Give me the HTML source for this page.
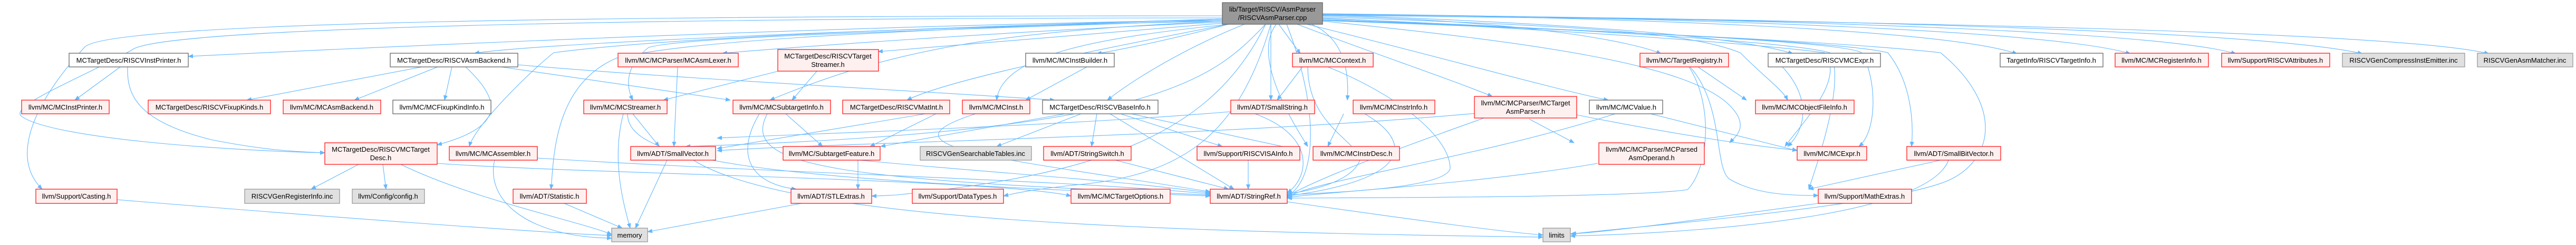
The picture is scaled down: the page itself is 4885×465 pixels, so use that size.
<!DOCTYPE html>
<html><head><meta charset="utf-8">
<style>
html,body{margin:0;padding:0;background:#fff;}
svg{display:block;}
text{font-family:"Liberation Sans",Arial,sans-serif;font-size:13px;fill:#000;}
.w{fill:#fff;stroke:#666;stroke-width:1.3;}
.r{fill:#fff0f0;stroke:#ff1a1a;stroke-width:1.3;}
.g{fill:#e0e0e0;stroke:#999;stroke-width:1.3;}
.k{fill:#999;stroke:#666;stroke-width:1.3;}
.e{fill:none;stroke:#63b8ff;stroke-width:1.1;marker-end:url(#a);}
</style></head><body>
<svg width="4885" height="465" viewBox="0 0 4885 465" xmlns="http://www.w3.org/2000/svg">
<defs><marker id="a" viewBox="0 0 10 10" refX="9" refY="5" markerWidth="10" markerHeight="10" markerUnits="userSpaceOnUse" orient="auto"><path d="M0,1 L10,5 L0,9 z" fill="#63b8ff"/></marker></defs>

<!-- edges from root -->
<g>
<path class="e" d="M2318,30 C1200,30 200,40 160,90 C60,200 20,300 80,359"/>
<path class="e" d="M2318,34 C1300,34 300,50 250,95 C150,150 20,200 40,220 C90,260 400,285 616,290"/>
<path class="e" d="M2318,38 C1500,50 500,100 357,107"/>
<path class="e" d="M2318,40 C1600,55 1000,85 900,101"/>
<path class="e" d="M2318,42 C1900,60 1500,90 1370,101"/>
<path class="e" d="M2318,44 C2000,70 1750,90 1665,98"/>
<path class="e" d="M2330,46 C2200,80 2120,95 2080,102"/>
<path class="e" d="M2318,36 C1500,60 1200,80 1050,100 C1000,140 900,240 890,278"/>
<path class="e" d="M2318,36 C1600,60 1300,80 1170,110 C1050,160 1050,300 1045,359"/>
<path class="e" d="M2318,38 C1700,60 1300,70 1230,90 C1180,130 1190,170 1200,190"/>
<path class="e" d="M2318,40 C1900,60 1700,90 1460,190"/>
<path class="e" d="M2330,46 C2100,90 1800,150 1720,190"/>
<path class="e" d="M2330,46 C2100,70 1900,100 1890,190"/>
<path class="e" d="M2360,46 C2250,90 2150,150 2100,190"/>
<path class="e" d="M2400,46 C2300,150 2200,250 1300,278"/>
<path class="e" d="M2410,46 L2410,190"/>
<path class="e" d="M2420,46 C2380,100 2430,200 2480,278"/>
<path class="e" d="M2425,46 L2466,102"/>
<path class="e" d="M2470,40 C2540,60 2560,120 2555,190"/>
<path class="e" d="M2460,46 C2600,100 2750,150 2830,183"/>
<path class="e" d="M2470,44 C2700,100 2950,170 3050,190"/>
<path class="e" d="M2508,40 C2900,80 3200,120 3280,200 C3320,240 3290,260 3280,271"/>
<path class="e" d="M2508,30 C2900,40 3100,80 3150,102"/>
<path class="e" d="M2508,28 C3000,45 3300,70 3400,102"/>
<path class="e" d="M2508,32 C3000,50 3200,60 3300,100 C3350,150 3380,170 3390,190"/>
<path class="e" d="M2508,34 C3000,60 3300,80 3460,100 C3500,150 3420,230 3385,278"/>
<path class="e" d="M2508,35 C3000,55 3400,80 3470,100 C3500,150 3450,300 3430,359"/>
<path class="e" d="M2508,37 C3100,60 3500,80 3530,100 C3560,150 3560,250 3525,278"/>
<path class="e" d="M2508,38 C3100,60 3500,80 3580,100 C3620,150 3630,220 3625,278"/>
<path class="e" d="M2508,39 C3100,60 3500,80 3680,100 C3800,200 3780,300 3700,340 C3600,390 3100,430 2980,444"/>
<path class="e" d="M2508,26 C3200,35 3700,60 3825,102"/>
<path class="e" d="M2508,26 C3300,35 3900,60 4040,102"/>
<path class="e" d="M2508,27 C3400,35 4100,60 4240,102"/>
<path class="e" d="M2508,28 C3500,35 4300,60 4480,102"/>
<path class="e" d="M2508,29 C3600,40 4550,60 4720,102"/>
<path class="e" d="M2400,46 C2300,250 2100,330 1700,370 C1680,371 1670,372 1653,372"/>
<path class="e" d="M2410,46 C2350,250 2250,330 2050,350 C1950,360 1920,368 1903,372"/>
<path class="e" d="M2440,46 C2500,200 2500,340 2441,372"/>
</g>
<!-- inter-node edges -->
<g>
<path class="e" d="M228,127 L142,190"/>
<path class="e" d="M242,127 C240,180 260,230 400,265 C500,285 560,288 616,290"/>
<path class="e" d="M800,127 L468,190"/>
<path class="e" d="M830,127 L672,190"/>
<path class="e" d="M857,127 L843,190"/>
<path class="e" d="M883,127 C950,190 960,240 829,275"/>
<path class="e" d="M950,127 L1385,190"/>
<path class="e" d="M982,123 C1300,150 1700,170 2000,190"/>
<path class="e" d="M1285,127 L1278,278"/>
<path class="e" d="M1480,134 L1258,190"/>
<path class="e" d="M1550,134 L1502,190"/>
<path class="e" d="M680,312 L590,359"/>
<path class="e" d="M726,312 L732,359"/>
<path class="e" d="M760,312 C900,380 1100,420 1160,445"/>
<path class="e" d="M829,310 C1100,330 1900,340 2031,372"/>
<path class="e" d="M222,379 C600,410 1000,440 1160,447"/>
<path class="e" d="M1182,216 C1160,300 1180,380 1195,433"/>
<path class="e" d="M1200,216 L1250,278"/>
<path class="e" d="M1190,216 C1190,300 1400,340 2295,372"/>
<path class="e" d="M1440,216 C1390,300 1430,350 1510,359"/>
<path class="e" d="M1455,216 C1400,320 1600,340 2295,370"/>
<path class="e" d="M1490,216 L1560,278"/>
<path class="e" d="M938,304 C920,380 1000,450 1160,452"/>
<path class="e" d="M1019,300 C1500,330 2000,340 2295,368"/>
<path class="e" d="M1265,304 L1205,433"/>
<path class="e" d="M1315,304 C1500,420 2200,440 2926,450"/>
<path class="e" d="M1070,386 L1180,433"/>
<path class="e" d="M1520,386 L1228,440"/>
<path class="e" d="M1627,304 L1627,359"/>
<path class="e" d="M1630,304 C1900,330 2100,340 2295,366"/>
<path class="e" d="M2061,127 L1945,190"/>
<path class="e" d="M1775,216 L1650,278"/>
<path class="e" d="M1755,216 L1360,282"/>
<path class="e" d="M1850,216 C1650,280 1900,300 2295,364"/>
<path class="e" d="M2020,216 L1670,278"/>
<path class="e" d="M2050,216 L1890,278"/>
<path class="e" d="M2080,216 L2070,278"/>
<path class="e" d="M2125,216 L2318,278"/>
<path class="e" d="M2105,216 L2340,359"/>
<path class="e" d="M2145,216 L2460,284"/>
<path class="e" d="M2115,304 L2330,359"/>
<path class="e" d="M2367,304 L2367,359"/>
<path class="e" d="M2333,212 C2000,240 1500,255 1360,262"/>
<path class="e" d="M2380,216 C2500,260 2480,340 2441,366"/>
<path class="e" d="M2470,127 L2422,190"/>
<path class="e" d="M2480,127 C2480,230 2560,260 2580,300 C2570,340 2500,360 2441,368"/>
<path class="e" d="M2518,127 C2650,180 2750,260 2750,320 C2740,360 2500,366 2441,370"/>
<path class="e" d="M2548,216 L2518,278"/>
<path class="e" d="M2588,216 C2680,270 2680,340 2441,372"/>
<path class="e" d="M2900,226 L2985,271"/>
<path class="e" d="M2820,222 C2600,300 2500,340 2441,372"/>
<path class="e" d="M2800,215 C2300,260 1600,270 1360,286"/>
<path class="e" d="M2990,218 C3200,260 3350,280 3408,285"/>
<path class="e" d="M3063,216 C2800,300 2500,340 2441,374"/>
<path class="e" d="M3130,216 L3408,286"/>
<path class="e" d="M3030,310 C2800,350 2500,365 2441,375"/>
<path class="e" d="M3220,127 L3312,190"/>
<path class="e" d="M3205,127 C3270,200 3250,320 3280,340 C3330,370 3400,371 3448,371"/>
<path class="e" d="M3203,127 C3250,200 3240,320 3200,360 C3100,375 2600,375 2441,376"/>
<path class="e" d="M3380,127 C3430,180 3430,240 3390,278"/>
<path class="e" d="M3680,304 L3430,359"/>
<path class="e" d="M3695,304 C3660,400 3300,440 2978,448"/>
<path class="e" d="M3448,386 C3200,420 3050,440 2978,444"/>
<path class="e" d="M2441,383 C2700,420 2850,440 2926,446"/>
</g>

<!-- nodes -->
<g>
<rect class="k" x="2318" y="5" width="190" height="41"/>
<text x="2413" y="22" text-anchor="middle">lib/Target/RISCV/AsmParser</text>
<text x="2413" y="38" text-anchor="middle">/RISCVAsmParser.cpp</text>

<!-- row1 -->
<rect class="w" x="131" y="101" width="226" height="26"/><text x="244" y="119" text-anchor="middle">MCTargetDesc/RISCVInstPrinter.h</text>
<rect class="w" x="740" y="101" width="242" height="26"/><text x="861" y="119" text-anchor="middle">MCTargetDesc/RISCVAsmBackend.h</text>
<rect class="r" x="1172" y="101" width="228" height="26"/><text x="1286" y="119" text-anchor="middle">llvm/MC/MCParser/MCAsmLexer.h</text>
<rect class="r" x="1475" y="94" width="191" height="41"/><text x="1570" y="111" text-anchor="middle">MCTargetDesc/RISCVTarget</text><text x="1570" y="127" text-anchor="middle">Streamer.h</text>
<rect class="w" x="1945" y="101" width="168" height="26"/><text x="2029" y="119" text-anchor="middle">llvm/MC/MCInstBuilder.h</text>
<rect class="r" x="2451" y="101" width="153" height="26"/><text x="2527" y="119" text-anchor="middle">llvm/MC/MCContext.h</text>
<rect class="r" x="3110" y="101" width="168" height="26"/><text x="3194" y="119" text-anchor="middle">llvm/MC/TargetRegistry.h</text>
<rect class="w" x="3353" y="101" width="213" height="26"/><text x="3460" y="119" text-anchor="middle">MCTargetDesc/RISCVMCExpr.h</text>
<rect class="w" x="3793" y="101" width="195" height="26"/><text x="3890" y="119" text-anchor="middle">TargetInfo/RISCVTargetInfo.h</text>
<rect class="r" x="4011" y="101" width="177" height="26"/><text x="4099" y="119" text-anchor="middle">llvm/MC/MCRegisterInfo.h</text>
<rect class="r" x="4213" y="101" width="205" height="26"/><text x="4315" y="119" text-anchor="middle">llvm/Support/RISCVAttributes.h</text>
<rect class="g" x="4442" y="101" width="232" height="26"/><text x="4558" y="119" text-anchor="middle">RISCVGenCompressInstEmitter.inc</text>
<rect class="g" x="4698" y="101" width="181" height="26"/><text x="4788" y="119" text-anchor="middle">RISCVGenAsmMatcher.inc</text>

<!-- row2 -->
<rect class="r" x="41" y="190" width="166" height="26"/><text x="124" y="208" text-anchor="middle">llvm/MC/MCInstPrinter.h</text>
<rect class="r" x="281" y="190" width="232" height="26"/><text x="397" y="208" text-anchor="middle">MCTargetDesc/RISCVFixupKinds.h</text>
<rect class="r" x="537" y="190" width="185" height="26"/><text x="629" y="208" text-anchor="middle">llvm/MC/MCAsmBackend.h</text>
<rect class="w" x="745" y="190" width="186" height="26"/><text x="838" y="208" text-anchor="middle">llvm/MC/MCFixupKindInfo.h</text>
<rect class="r" x="1107" y="190" width="158" height="26"/><text x="1186" y="208" text-anchor="middle">llvm/MC/MCStreamer.h</text>
<rect class="r" x="1390" y="190" width="185" height="26"/><text x="1482" y="208" text-anchor="middle">llvm/MC/MCSubtargetInfo.h</text>
<rect class="r" x="1598" y="190" width="203" height="26"/><text x="1700" y="208" text-anchor="middle">MCTargetDesc/RISCVMatInt.h</text>
<rect class="r" x="1825" y="190" width="128" height="26"/><text x="1889" y="208" text-anchor="middle">llvm/MC/MCInst.h</text>
<rect class="w" x="1977" y="190" width="219" height="26"/><text x="2086" y="208" text-anchor="middle">MCTargetDesc/RISCVBaseInfo.h</text>
<rect class="r" x="2334" y="190" width="159" height="26"/><text x="2413" y="208" text-anchor="middle">llvm/ADT/SmallString.h</text>
<rect class="r" x="2566" y="190" width="155" height="26"/><text x="2643" y="208" text-anchor="middle">llvm/MC/MCInstrInfo.h</text>
<rect class="r" x="2796" y="183" width="194" height="41"/><text x="2893" y="200" text-anchor="middle">llvm/MC/MCParser/MCTarget</text><text x="2893" y="216" text-anchor="middle">AsmParser.h</text>
<rect class="w" x="3014" y="190" width="139" height="26"/><text x="3084" y="208" text-anchor="middle">llvm/MC/MCValue.h</text>
<rect class="r" x="3329" y="190" width="187" height="26"/><text x="3422" y="208" text-anchor="middle">llvm/MC/MCObjectFileInfo.h</text>

<!-- row3 -->
<rect class="r" x="616" y="271" width="213" height="41"/><text x="722" y="288" text-anchor="middle">MCTargetDesc/RISCVMCTarget</text><text x="722" y="304" text-anchor="middle">Desc.h</text>
<rect class="r" x="852" y="278" width="167" height="26"/><text x="935" y="296" text-anchor="middle">llvm/MC/MCAssembler.h</text>
<rect class="r" x="1196" y="278" width="161" height="26"/><text x="1276" y="296" text-anchor="middle">llvm/ADT/SmallVector.h</text>
<rect class="r" x="1485" y="278" width="184" height="26"/><text x="1577" y="296" text-anchor="middle">llvm/MC/SubtargetFeature.h</text>
<rect class="g" x="1745" y="278" width="211" height="26"/><text x="1850" y="296" text-anchor="middle">RISCVGenSearchableTables.inc</text>
<rect class="r" x="1979" y="278" width="166" height="26"/><text x="2062" y="296" text-anchor="middle">llvm/ADT/StringSwitch.h</text>
<rect class="r" x="2270" y="278" width="195" height="26"/><text x="2367" y="296" text-anchor="middle">llvm/Support/RISCVISAInfo.h</text>
<rect class="r" x="2490" y="278" width="164" height="26"/><text x="2572" y="296" text-anchor="middle">llvm/MC/MCInstrDesc.h</text>
<rect class="r" x="3032" y="271" width="200" height="41"/><text x="3132" y="288" text-anchor="middle">llvm/MC/MCParser/MCParsed</text><text x="3132" y="304" text-anchor="middle">AsmOperand.h</text>
<rect class="r" x="3408" y="278" width="132" height="26"/><text x="3474" y="296" text-anchor="middle">llvm/MC/MCExpr.h</text>
<rect class="r" x="3616" y="278" width="178" height="26"/><text x="3705" y="296" text-anchor="middle">llvm/ADT/SmallBitVector.h</text>

<!-- row4 -->
<rect class="r" x="68" y="359" width="154" height="27"/><text x="145" y="377" text-anchor="middle">llvm/Support/Casting.h</text>
<rect class="g" x="464" y="359" width="180" height="27"/><text x="554" y="377" text-anchor="middle">RISCVGenRegisterInfo.inc</text>
<rect class="g" x="668" y="359" width="137" height="27"/><text x="736" y="377" text-anchor="middle">llvm/Config/config.h</text>
<rect class="r" x="973" y="359" width="139" height="27"/><text x="1042" y="377" text-anchor="middle">llvm/ADT/Statistic.h</text>
<rect class="r" x="1500" y="359" width="153" height="27"/><text x="1576" y="377" text-anchor="middle">llvm/ADT/STLExtras.h</text>
<rect class="r" x="1730" y="359" width="173" height="27"/><text x="1816" y="377" text-anchor="middle">llvm/Support/DataTypes.h</text>
<rect class="r" x="2031" y="359" width="188" height="27"/><text x="2125" y="377" text-anchor="middle">llvm/MC/MCTargetOptions.h</text>
<rect class="r" x="2295" y="359" width="146" height="27"/><text x="2368" y="377" text-anchor="middle">llvm/ADT/StringRef.h</text>
<rect class="r" x="3448" y="359" width="177" height="27"/><text x="3536" y="377" text-anchor="middle">llvm/Support/MathExtras.h</text>

<!-- row5 -->
<rect class="g" x="1160" y="433" width="68" height="26"/><text x="1194" y="451" text-anchor="middle">memory</text>
<rect class="g" x="2926" y="433" width="52" height="26"/><text x="2952" y="451" text-anchor="middle">limits</text>
</g>
</svg>
</body></html>
